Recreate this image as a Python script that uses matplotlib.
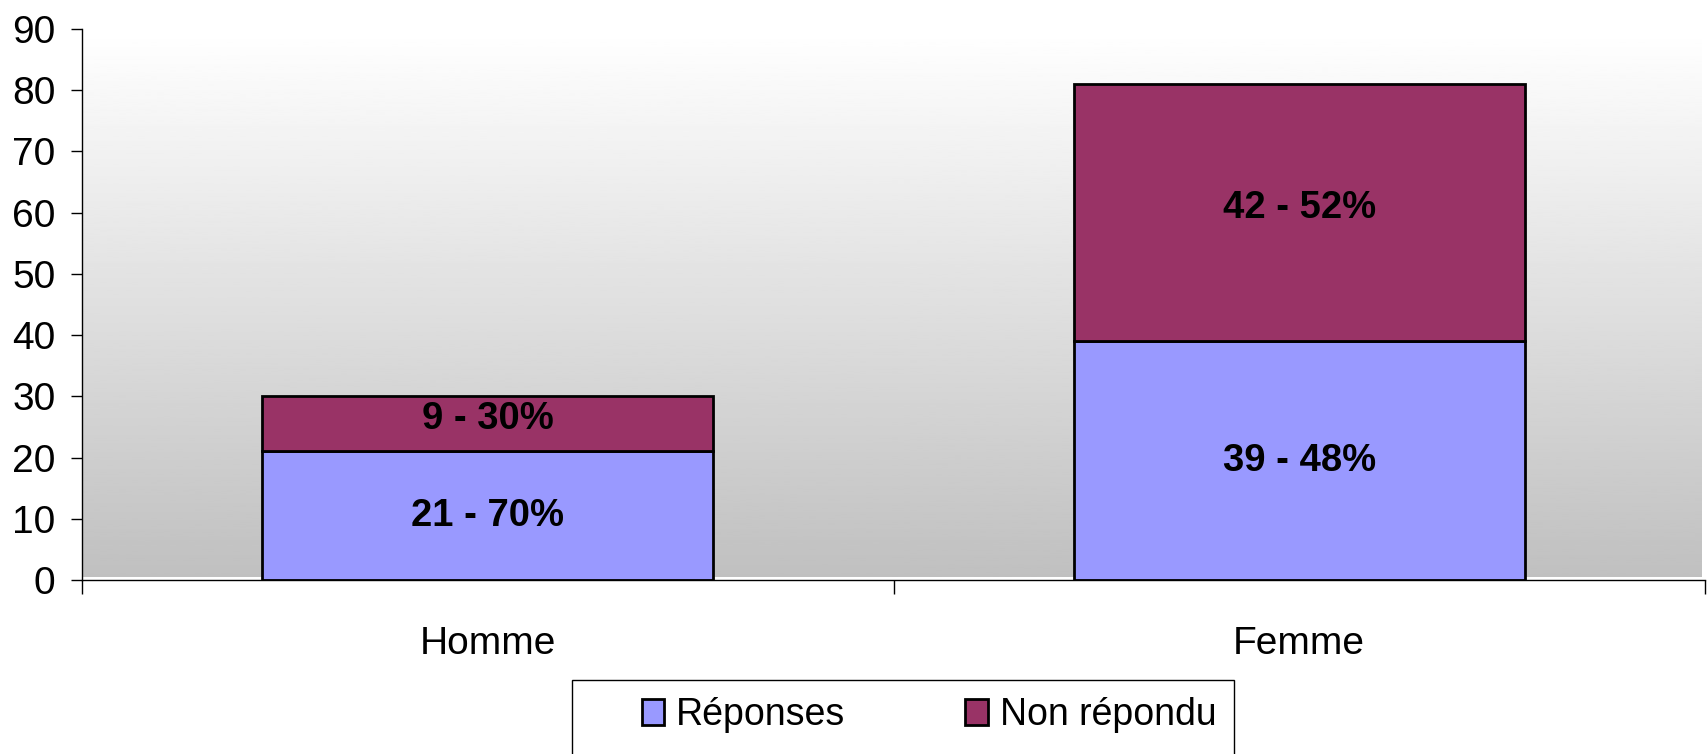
import numpy as np
import matplotlib.pyplot as plt
from matplotlib.patches import Rectangle

categories = ["Homme", "Femme"]
reponses = [21, 39]
non_repondu = [9, 42]
labels_reponses = ["21 - 70%", "39 - 48%"]
labels_non_repondu = ["9 - 30%", "42 - 52%"]

BLUE = "#9999FF"
MAROON = "#993366"

plt.rcParams["font.family"] = ["Liberation Sans", "DejaVu Sans"]

fig = plt.figure(figsize=(17.07, 7.54), dpi=100)
ax = fig.add_axes([82 / 1707, 1 - 580 / 754, (1705 - 82) / 1707, (580 - 29) / 754])

# grey gradient background of the plot area
grad = np.linspace(0.753, 1.0, 256).reshape(-1, 1)
ax.imshow(grad, cmap="gray", vmin=0, vmax=1, aspect="auto", origin="lower",
          extent=[0, 0.998, 0.006, 1], transform=ax.transAxes, zorder=0)

x = np.arange(len(categories))
width = 0.556
b1 = ax.bar(x, reponses, width, color=BLUE, edgecolor="black", linewidth=2,
            label="Réponses", zorder=2)
b2 = ax.bar(x, non_repondu, width, bottom=reponses, color=MAROON,
            edgecolor="black", linewidth=2, label="Non répondu", zorder=2)

lab_font = dict(fontsize=27.5, fontweight="bold", color="black")
for i in range(len(categories)):
    ax.text(x[i], reponses[i] / 2, labels_reponses[i], ha="center",
            va="center", zorder=3, **lab_font)
    ax.text(x[i], reponses[i] + non_repondu[i] / 2 + 0.8,
            labels_non_repondu[i], ha="center", va="center", zorder=3,
            **lab_font)

ax.set_xlim(-0.5, 1.5)
ax.set_ylim(0, 90)
ax.set_yticks(range(0, 91, 10))
ax.tick_params(axis="y", labelsize=28, length=8, width=1, pad=11,
               direction="out")
ax.set_xticks(x)
ax.set_xticklabels(categories)
ax.tick_params(axis="x", which="major", labelsize=28, length=0, pad=33)
ax.set_xticks([-0.5, 0.5, 1.5], minor=True)
ax.tick_params(axis="x", which="minor", length=10, width=1, direction="out")

for s in ["top", "right"]:
    ax.spines[s].set_visible(False)
for s in ["left", "bottom"]:
    ax.spines[s].set_linewidth(1)
    ax.spines[s].set_color("black")

# legend box, clipped by the bottom edge as in the original
fig.patches.append(Rectangle((572 / 1707, -0.2), (1234 - 572) / 1707,
                             0.2 + 1 - 680 / 754, transform=fig.transFigure,
                             facecolor="white", edgecolor="black",
                             linewidth=1))
leg = fig.legend(handles=[b1, b2], loc="center left",
                 bbox_to_anchor=(642 / 1707, 1 - 715 / 754), ncol=2,
                 frameon=False, fontsize=27, handlelength=0.59,
                 handleheight=0.69, handletextpad=0.32, columnspacing=3.2,
                 borderaxespad=0, borderpad=0)
for h in leg.legend_handles:
    h.set_linewidth(2)

fig.savefig("out.png", dpi=100)
